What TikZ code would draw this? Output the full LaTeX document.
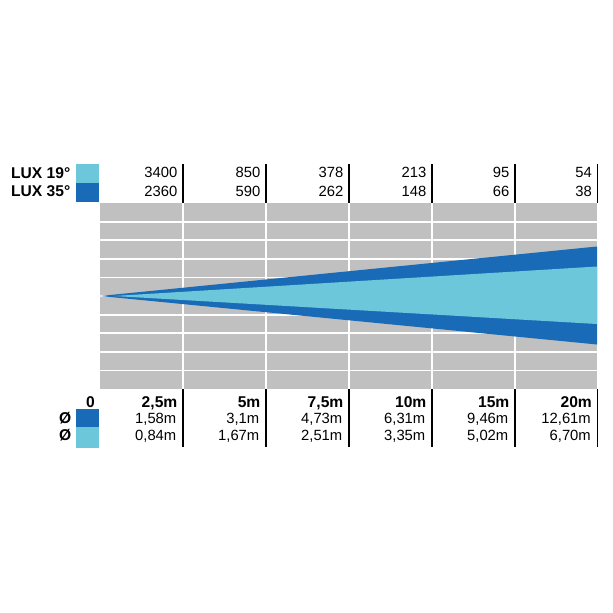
\documentclass[tikz,border=0pt]{standalone}
\usepackage{fontspec}
\setmainfont{Liberation Sans}
\definecolor{beamlight}{HTML}{6CC7DB}
\definecolor{beamdark}{HTML}{1A6BB7}
\definecolor{gridgray}{HTML}{C0C0C0}
\begin{document}
\begin{tikzpicture}[x=1pt,y=-1pt,
  txt/.style={inner sep=0pt,font=\fontsize{14.8}{17}\selectfont},
  numtxt/.style={txt,anchor=base east},
  boldfont/.style={font=\fontsize{15.6}{18}\selectfont\bfseries},
  boldtxt/.style={txt,anchor=base east,boldfont},
  sep/.style={draw=black,line width=1.6pt},
  gridline/.style={draw=white,line width=1.8pt}]
\useasboundingbox[fill=white] (0,0) rectangle (613,613);
% grid
\fill[gridgray] (100,203) rectangle (597,389);
\foreach \k in {1,...,9} \draw[gridline] (100,{203+18.6*\k}) -- (597,{203+18.6*\k});
\foreach \x in {183,266,349,432,515} \draw[gridline] (\x,203) -- (\x,389);
% beams
\fill[beamdark] (100,296) -- (597,246.5) -- (597,344.5) -- cycle;
\fill[beamlight] (114,296) -- (597,266.5) -- (597,324) -- cycle;
% legend swatches
\fill[beamlight] (76,164) rectangle (99,183);
\fill[beamdark] (76,183) rectangle (99,202);
\fill[beamdark] (76,408.5) rectangle (98.5,427);
\fill[beamlight] (76,427) rectangle (98.5,447.5);
% legend labels
\node[txt,anchor=base west,boldfont] (l19) at (11,178) {LUX 19°};
\node[txt,anchor=base west,boldfont] (l35) at (11,196.5) {LUX 35°};
\node[txt,anchor=base west,boldfont] (d1) at (59,423) {Ø};
\node[txt,anchor=base west,boldfont] (d2) at (59,440.5) {Ø};
\node[boldtxt] (z0) at (95,407) {0};
% separators
\foreach \x in {183,266,349,432,515,597.5} {
  \draw[sep] (\x,164) -- (\x,203);
  \draw[sep] (\x,389) -- (\x,447);
}
% top numbers
\foreach \x/\a/\b [count=\i] in {183/3400/2360,266/850/590,349/378/262,432/213/148,515/95/66,597.5/54/38} {
  \node[numtxt] (ta\i) at (\x-5.5,177.5) {\a};
  \node[numtxt] (tb\i) at (\x-5.5,196) {\b};
}
% bottom numbers
\foreach \x/\a/\b/\c [count=\i] in {183/{2,5m}/{1,58m}/{0,84m},266/5m/{3,1m}/{1,67m},349/{7,5m}/{4,73m}/{2,51m},432/10m/{6,31m}/{3,35m},515/15m/{9,46m}/{5,02m},597.5/20m/{12,61m}/{6,70m}} {
  \node[boldtxt] (ba\i) at (\x-5.5,407) {\a};
  \node[numtxt] (bb\i) at (\x-6.5,423) {\b};
  \node[numtxt] (bc\i) at (\x-6.5,440.5) {\c};
}
\end{tikzpicture}
\end{document}
